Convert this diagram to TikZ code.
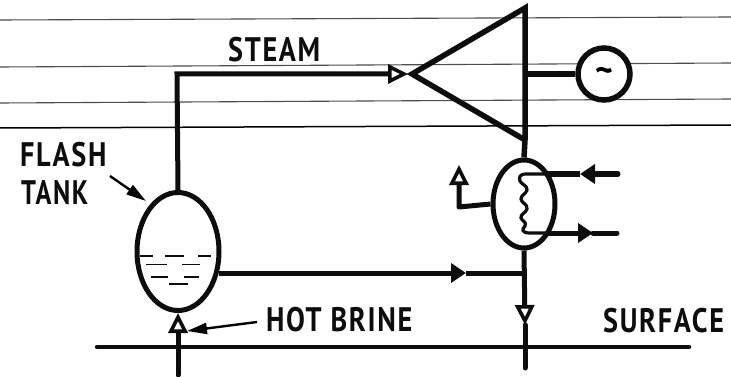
\documentclass[tikz,border=0pt]{standalone}
\usepackage{fontspec}
\setmainfont{PT Sans}[LetterSpace=6]
\usetikzlibrary{arrows.meta,shapes.geometric}
\tikzset{
 x=1pt,y=-1pt,
 pipe/.style={line width=5pt,black!95},
 vessel/.style={draw,ellipse,line width=5pt,black!95,fill=white,inner sep=0pt},
 strata/.style={line width=1.1pt,black!70},
 liq/.style={line width=1.8pt,black!95},
 lab/.style={font=\fontsize{34}{34}\bfseries\selectfont,inner sep=0pt,anchor=west,xscale=.83,black!95},
 hollow/.style={-{Triangle[length=20pt,width=19pt,line width=3.6pt,fill=black!25,open]}},
 solid/.style={-{Triangle[length=15pt,width=19pt]}},
 leader/.style={line width=2.4pt,-{Triangle[length=20pt,width=11pt]}}
}
\begin{document}
\begin{tikzpicture}
\useasboundingbox (0,0) rectangle (731,377);
% strata
\coordinate (s1a) at (0,20); \coordinate (s1b) at (731,17);
\coordinate (s2a) at (0,67); \coordinate (s2b) at (731,63);
\coordinate (s3a) at (0,103); \coordinate (s3b) at (731,99);
\coordinate (s4a) at (0,128); \coordinate (s4b) at (731,125);
\draw[strata] (s1a)--(s1b);
\draw[strata] (s2a)--(s2b);
\draw[strata] (s3a)--(s3b);
\draw[strata,line width=1.5pt,black] (s4a)--(s4b);
% surface
\coordinate (sl) at (97,347); \coordinate (sr) at (689,347);
\draw[pipe,line cap=round,line width=4.5pt] (sl)--(sr);
% vessels
\node[vessel,minimum width=82pt,minimum height=118pt] (tank) at (178,251.5) {};
\node[vessel,minimum width=62pt,minimum height=88pt] (cond) at (524,204) {};
\node[draw,circle,line width=5.5pt,black!95,fill=white,inner sep=0pt,minimum size=52pt] (gen) at (604,74) {};
\node[font=\fontsize{34}{34}\bfseries\selectfont,inner sep=0pt] (til) at (604,75) {\char"7E};
% turbine
\coordinate (apex) at (412,74); \coordinate (ttop) at (525,8); \coordinate (tbot) at (525,140);
\draw[pipe,line width=5.5pt,line join=miter] (tbot)--(apex)--(ttop)--(tbot)--(cond.north);
\coordinate (shaft) at (525,74);
\draw[pipe,line width=5.5pt] (shaft)--(gen.west);
% steam
\coordinate (bend) at (177,74); \coordinate (stip) at (408,74);
\draw[pipe,hollow] (tank.north)--(bend)--(stip);
% brine in
\coordinate (bin) at (178,375); \coordinate (bintip) at (178,313);
\draw[pipe,line cap=round,hollow] (bin)--(bintip);
% tank outlet
\coordinate (mid) at (525,273); \coordinate (otip) at (466,273); \coordinate (tout) at (219,273);
\draw[pipe,solid] (tout)--(otip);
\draw[pipe] (otip)--(mid);
\coordinate (dtip) at (525,325); \coordinate (dend) at (525,368);
\draw[pipe,hollow] (cond.south)--(dtip);
\draw[pipe,line cap=round] (dtip)--(dend);
% condenser connections
\coordinate (lb) at (459,207); \coordinate (ltip) at (459,165);
\draw[pipe,hollow,line join=round] (cond.west)--(lb)--(ltip);
\coordinate (cwin) at (618,174); \coordinate (cwt) at (580,174); \coordinate (cwc) at (546,174);
\coordinate (cwo) at (617,233); \coordinate (cwot) at (593,233); \coordinate (cwb) at (546,233);
\draw[pipe,line cap=round,solid] (cwin)--(cwt);
\draw[pipe] (cwt)--(cwc);
\draw[pipe,solid] (cwb)--(cwot);
\draw[pipe,line cap=round] (cwot)--(cwo);
% coil
\draw[line width=3.2pt,black!95] (cwc) -- (526,174) .. controls (519,174) and (519,178) .. (520,181)
 .. controls (521,184) and (528,186) .. (527,190)
 .. controls (526,194) and (521,195) .. (521,199)
 .. controls (521,203) and (528,204) .. (527,209)
 .. controls (526,213) and (520,214) .. (521,218)
 .. controls (522,221) and (527,222) .. (525,226)
 .. controls (522,229) and (521,233) .. (530,233) -- (cwb);
% liquid
\foreach \a/\b/\c in {140/153/256,165/184/256,198/211/256,146/167/264.5,182/200/264.5,151/168/277,184/199/277,169/188/284}
  \draw[liq] (\a,\c)--(\b,\c);
% labels
\node[lab] (steam) at (228,50) {STEAM};
\node[lab] (flash) at (20,155) {FLASH};
\node[lab,xscale=.93] (tanklab) at (21,193) {TANK};
\node[lab] (brine) at (266,320) {HOT BRINE};
\node[lab] (surface) at (603,321) {SURFACE};
% leaders
\coordinate (fa) at (110,176); \coordinate (fb) at (146,201);
\draw[leader] (fa)--(fb);
\coordinate (ba) at (257,322); \coordinate (bb) at (187,331);
\draw[leader] (ba)--(bb);
\end{tikzpicture}
\end{document}
